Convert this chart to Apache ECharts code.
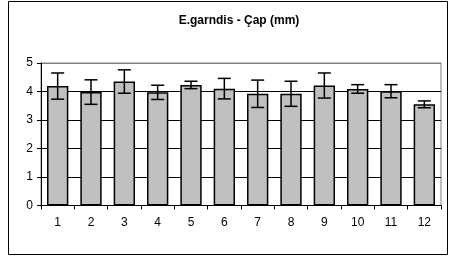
<!DOCTYPE html>
<html>
<head>
<meta charset="utf-8">
<script src="https://cdn.jsdelivr.net/npm/echarts@6/dist/echarts.min.js"></script>
<style>
  html, body { margin: 0; padding: 0; background: #fff; }
  #chart { width: 451px; height: 259px; }
</style>
</head>
<body>
<div id="chart"></div>
<script>
// data
const categories = ['1', '2', '3', '4', '5', '6', '7', '8', '9', '10', '11', '12']
const means = [4.19, 3.98, 4.35, 3.97, 4.23, 4.10, 3.92, 3.92, 4.21, 4.09, 4.01, 3.55]
const errors = [0.46, 0.43, 0.41, 0.25, 0.13, 0.36, 0.48, 0.44, 0.44, 0.15, 0.23, 0.12]

const chart = echarts.init(document.getElementById('chart'))

const errorData = means.map((m, i) => [i, m - errors[i], m + errors[i]])

const option = {
  animation: false,
  textStyle: { fontFamily: 'Liberation Sans, Arial, sans-serif' },
  title: {
    text: 'E.garndis - Çap (mm)',
    left: 234,
    top: 10,
    textAlign: 'center',
    textStyle: { fontSize: 12, fontWeight: 'bold', color: '#000' }
  },
  graphic: [
    {
      type: 'rect',
      shape: { x: 8.5, y: 1.5, width: 439, height: 253 },
      style: { fill: 'none', stroke: '#000', lineWidth: 1 },
      silent: true
    }
  ],
  grid: {
    left: 41,
    right: 10,
    top: 63,
    bottom: 53.5,
    show: true,
    borderColor: '#808080',
    borderWidth: 1
  },
  xAxis: {
    type: 'category',
    data: categories,
    axisLine: { lineStyle: { color: '#000', width: 1 } },
    axisTick: { show: true, alignWithLabel: false, length: 4, lineStyle: { color: '#000' } },
    axisLabel: { color: '#000', fontSize: 12, margin: 11 }
  },
  yAxis: {
    type: 'value',
    min: 0,
    max: 5,
    interval: 1,
    axisLine: { show: true, lineStyle: { color: '#000', width: 1 } },
    axisTick: { show: true, length: 4, lineStyle: { color: '#000' } },
    axisLabel: { color: '#000', fontSize: 12, margin: 8 },
    splitLine: {
      lineStyle: { color: ['#000', '#000', '#000', '#000', '#000', '#808080'], width: 1 }
    }
  },
  series: [
    {
      type: 'bar',
      data: means,
      barWidth: '64%',
      itemStyle: { color: '#c0c0c0', borderColor: '#000', borderWidth: 1.5 }
    },
    {
      type: 'custom',
      data: errorData,
      z: 5,
      renderItem: (params, api) => {
        const x = api.value(0)
        const lo = api.coord([x, api.value(1)])
        const hi = api.coord([x, api.value(2)])
        const half = 6.5
        const style = { stroke: '#000', lineWidth: 1.5, fill: 'none' }
        return {
          type: 'group',
          children: [
            { type: 'line', shape: { x1: lo[0], y1: lo[1], x2: hi[0], y2: hi[1] }, style },
            { type: 'line', shape: { x1: hi[0] - half, y1: hi[1], x2: hi[0] + half, y2: hi[1] }, style },
            { type: 'line', shape: { x1: lo[0] - half, y1: lo[1], x2: lo[0] + half, y2: lo[1] }, style }
          ]
        }
      }
    }
  ]
}

chart.setOption(option)
</script>
</body>
</html>
